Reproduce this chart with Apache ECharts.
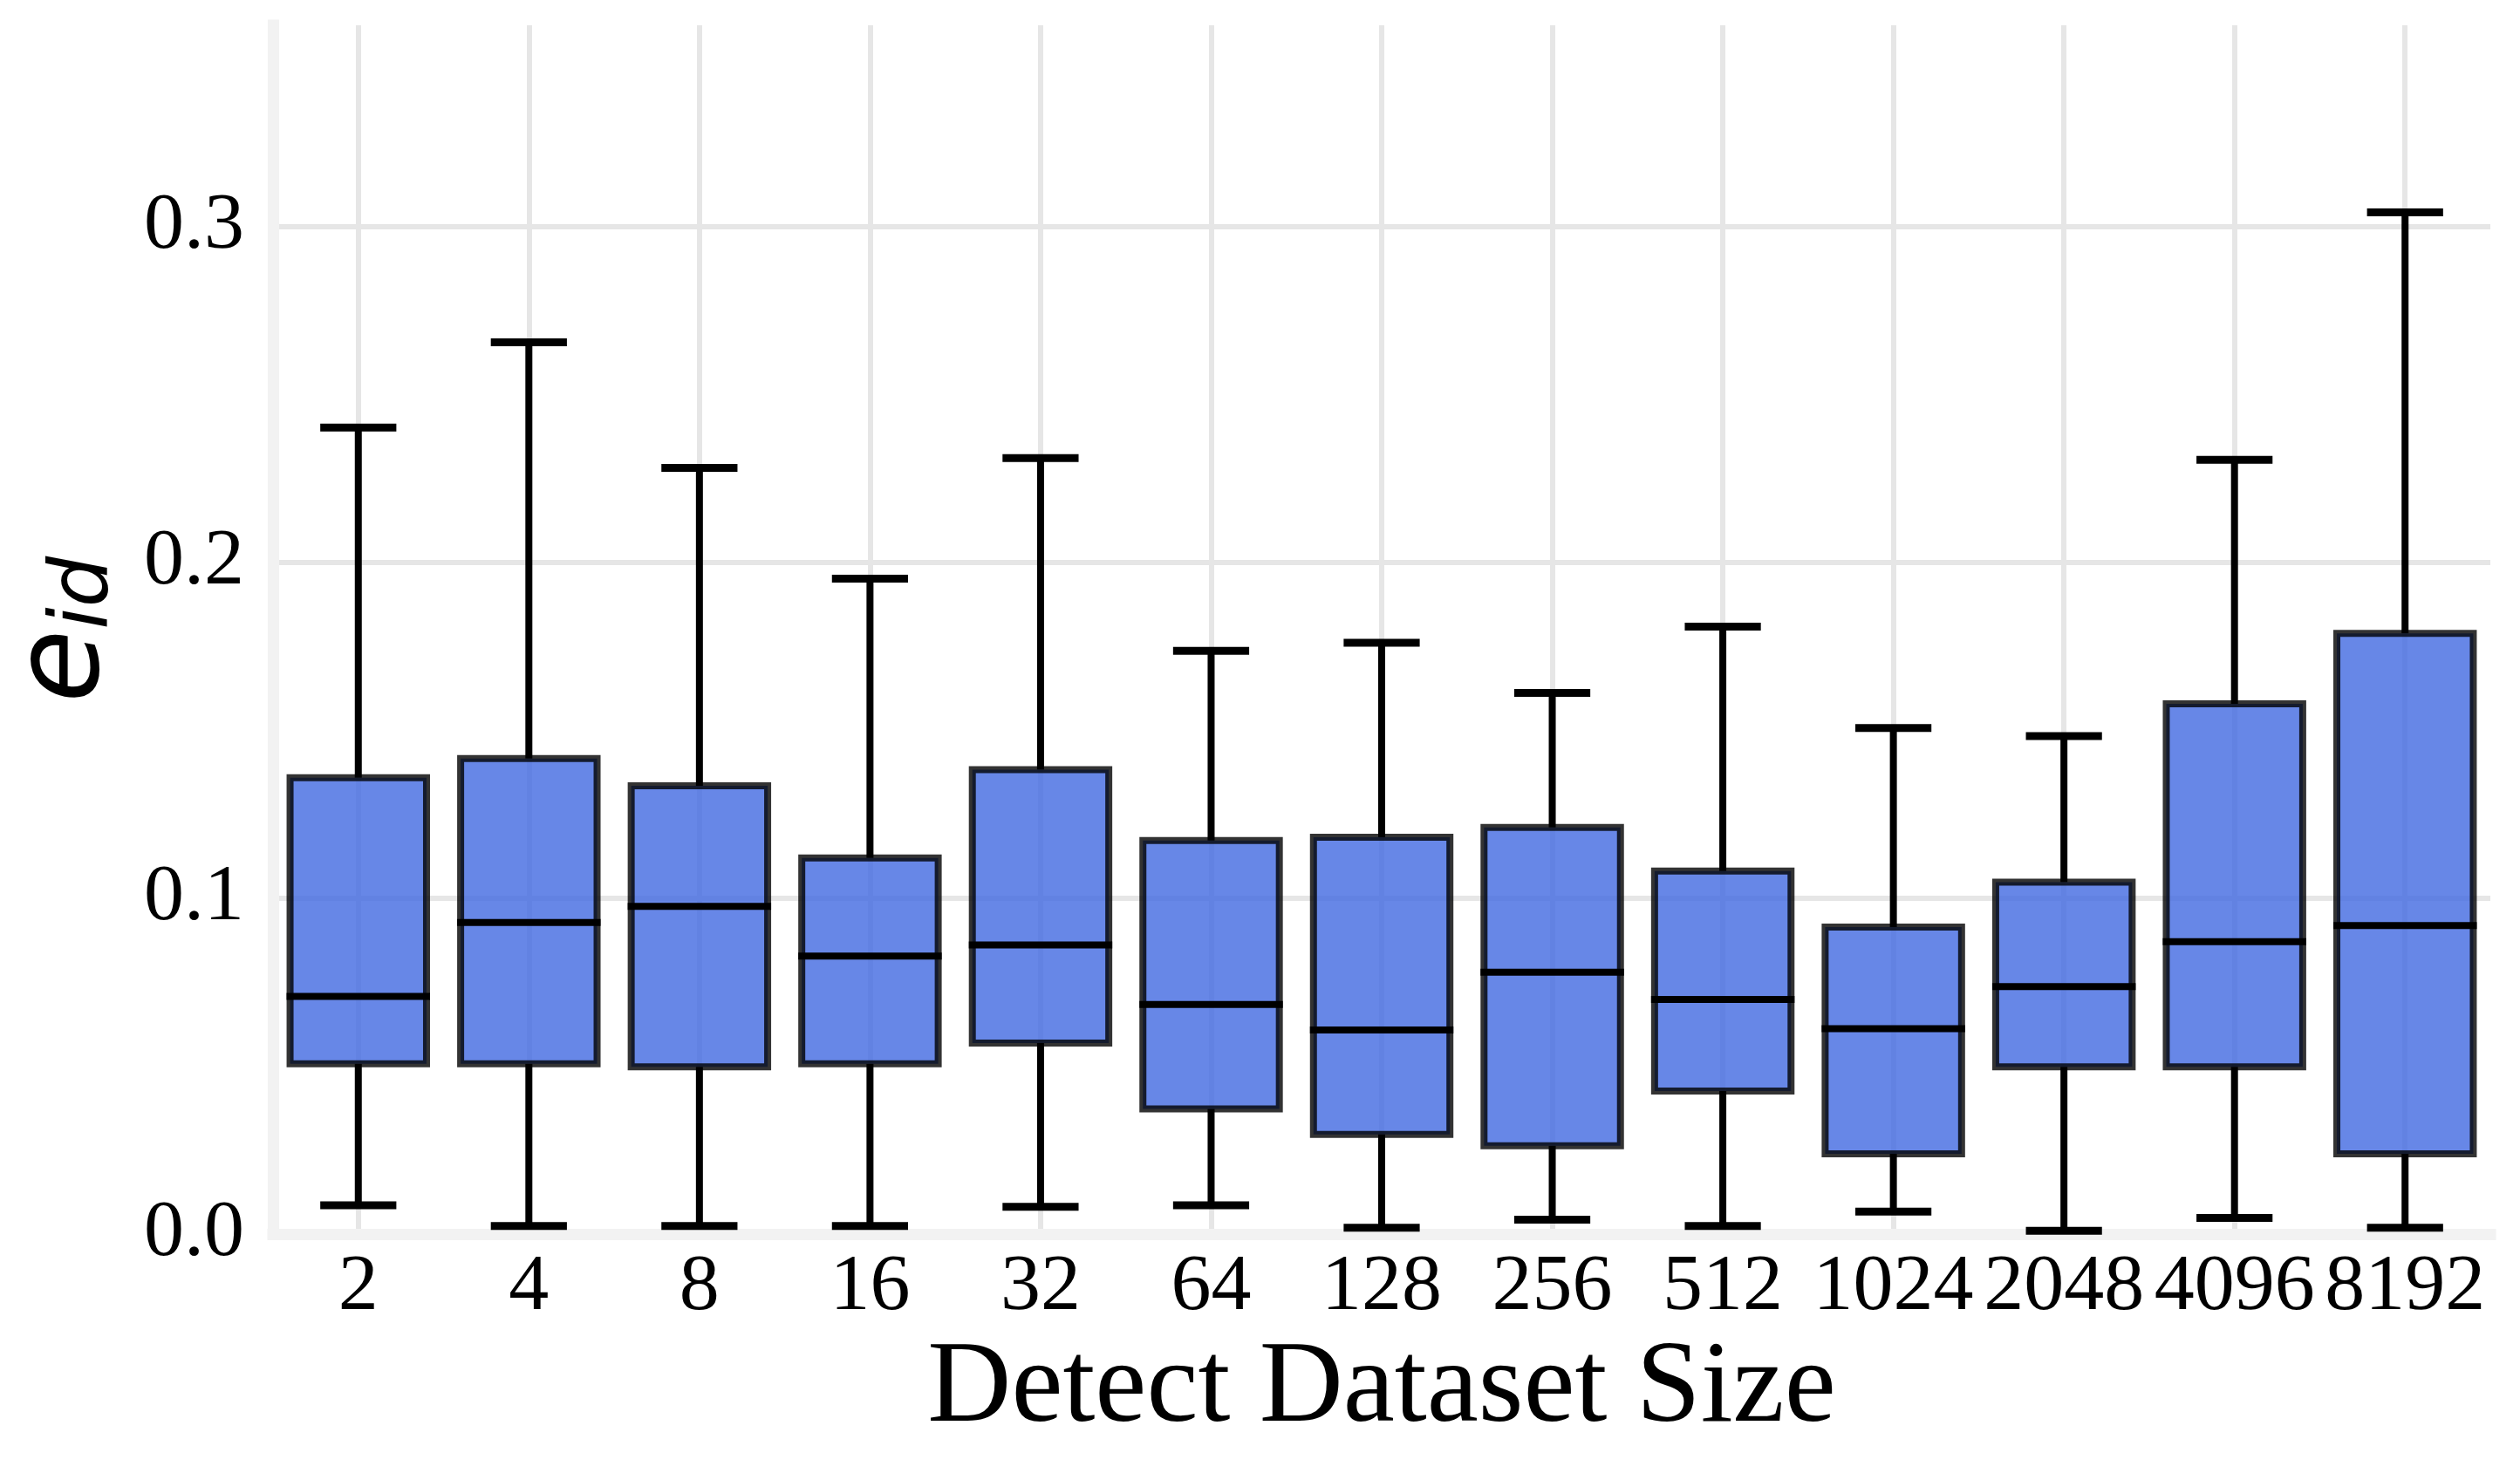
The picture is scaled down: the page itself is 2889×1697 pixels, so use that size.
<!DOCTYPE html>
<html>
<head>
<meta charset="utf-8">
<title>e_id vs detect dataset size</title>
<script src="https://cdn.jsdelivr.net/npm/echarts@6/dist/echarts.min.js"></script>
<style>
  html, body { margin: 0; padding: 0; background: #fff; }
  #chart { width: 2889px; height: 1697px; }
</style>
</head>
<body>
<div id="chart"></div>
<script>
// values
const sizes = ['2', '4', '8', '16', '32', '64', '128', '256', '512', '1024', '2048', '4096', '8192'];
const whiskerLow  = [0.0086, 0.0024, 0.0024, 0.0024, 0.0081, 0.0086, 0.0019, 0.0043, 0.0024, 0.0067, 0.0010, 0.0048, 0.0019];
const quartile1   = [0.0507, 0.0507, 0.0498, 0.0507, 0.0569, 0.0373, 0.0297, 0.0263, 0.0426, 0.0239, 0.0498, 0.0498, 0.0239];
const medians     = [0.0708, 0.0928, 0.0976, 0.0828, 0.0861, 0.0684, 0.0608, 0.0780, 0.0699, 0.0612, 0.0737, 0.0871, 0.0919];
const quartile3   = [0.1359, 0.1416, 0.1335, 0.1120, 0.1383, 0.1172, 0.1182, 0.1211, 0.1081, 0.0914, 0.1048, 0.1579, 0.1789];
const whiskerHigh = [0.2402, 0.2656, 0.2282, 0.1952, 0.2311, 0.1737, 0.1761, 0.1612, 0.1809, 0.1507, 0.1483, 0.2306, 0.3043];
const yTicks = [0, 0.1, 0.2, 0.3];

const serif = '"Liberation Serif", "Times New Roman", serif';

let boxData = sizes.map((s, i) => [i, whiskerLow[i], quartile1[i], medians[i], quartile3[i], whiskerHigh[i]]);

// draws one box: whiskers, caps, box, median
function renderBox(params, api) {
	let idx = api.value(0);
	let band = api.size([1, 0])[0];
	let half = band * 0.4;
	let capHalf = band * 0.2;
	let lo = api.coord([idx, api.value(1)]);
	let q1 = api.coord([idx, api.value(2)]);
	let med = api.coord([idx, api.value(3)]);
	let q3 = api.coord([idx, api.value(4)]);
	let hi = api.coord([idx, api.value(5)]);
	let cx = q1[0];
	let whisker = { stroke: '#000', lineWidth: 8 };
	let cap = { stroke: '#000', lineWidth: 9, lineCap: 'square' };
	return {
		type: 'group',
		children: [
			{ type: 'line', shape: { x1: cx, y1: q3[1], x2: cx, y2: hi[1] }, style: whisker },
			{ type: 'line', shape: { x1: cx, y1: q1[1], x2: cx, y2: lo[1] }, style: whisker },
			{ type: 'line', shape: { x1: cx - capHalf, y1: hi[1], x2: cx + capHalf, y2: hi[1] }, style: cap },
			{ type: 'line', shape: { x1: cx - capHalf, y1: lo[1], x2: cx + capHalf, y2: lo[1] }, style: cap },
			{
				type: 'rect',
				shape: { x: cx - half, y: q3[1], width: half * 2, height: q1[1] - q3[1] },
				style: { fill: 'rgba(65,105,225,0.8)', stroke: 'rgba(0,0,0,0.8)', lineWidth: 8, lineJoin: 'miter' }
			},
			{
				type: 'line',
				shape: { x1: cx - half, y1: med[1], x2: cx + half, y2: med[1] },
				style: { stroke: '#000', lineWidth: 8, lineCap: 'square' }
			}
		]
	};
}

let chart = echarts.init(document.getElementById('chart'), null, { renderer: 'canvas' });

let options = {
	backgroundColor: '#ffffff',
	animation: false,
	grid: {
		left: 313,
		top: 29,
		width: 2542,
		height: 1386,
		containLabel: false
	},
	xAxis: {
		type: 'category',
		data: sizes,
		boundaryGap: true,
		name: 'Detect Dataset Size',
		nameLocation: 'middle',
		nameGap: 111,
		nameTextStyle: { fontFamily: serif, fontSize: 133, color: '#000' },
		axisLine: { show: true, lineStyle: { color: '#f2f2f2', width: 13, cap: 'square' } },
		axisTick: { show: false },
		axisLabel: { interval: 0, margin: 16, fontFamily: serif, fontSize: 92, color: '#000' },
		splitLine: { show: true, alignWithLabel: true, lineStyle: { color: '#e6e6e6', width: 6 } }
	},
	yAxis: {
		type: 'value',
		min: yTicks[0],
		max: 0.36,
		interval: 0.1,
		name: '{e|e}{s|id}',
		nameLocation: 'middle',
		nameRotate: 90,
		nameGap: 168,
		nameTextStyle: {
			color: '#000',
			rich: {
				e: { fontFamily: 'DejaVu Sans', fontStyle: 'italic', fontSize: 137, lineHeight: 137, color: '#000' },
				s: { fontFamily: 'DejaVu Sans', fontStyle: 'italic', fontSize: 92, lineHeight: 68, verticalAlign: 'bottom', color: '#000' }
			}
		},
		axisLine: { show: true, lineStyle: { color: '#f2f2f2', width: 13, cap: 'square' } },
		axisTick: { show: false },
		axisLabel: {
			margin: 33,
			showMaxLabel: false,
			fontFamily: serif,
			fontSize: 92,
			color: '#000',
			formatter: v => (yTicks.some(t => Math.abs(t - v) < 1e-9) ? v.toFixed(1) : '')
		},
		splitLine: { show: true, showMaxLine: false, lineStyle: { color: '#e6e6e6', width: 6 } }
	},
	series: [
		{
			type: 'custom',
			name: 'e_id',
			renderItem: renderBox,
			encode: { x: 0, y: [1, 2, 3, 4, 5] },
			data: boxData,
			z: 3
		}
	]
};

chart.setOption(options);
</script>
</body>
</html>
